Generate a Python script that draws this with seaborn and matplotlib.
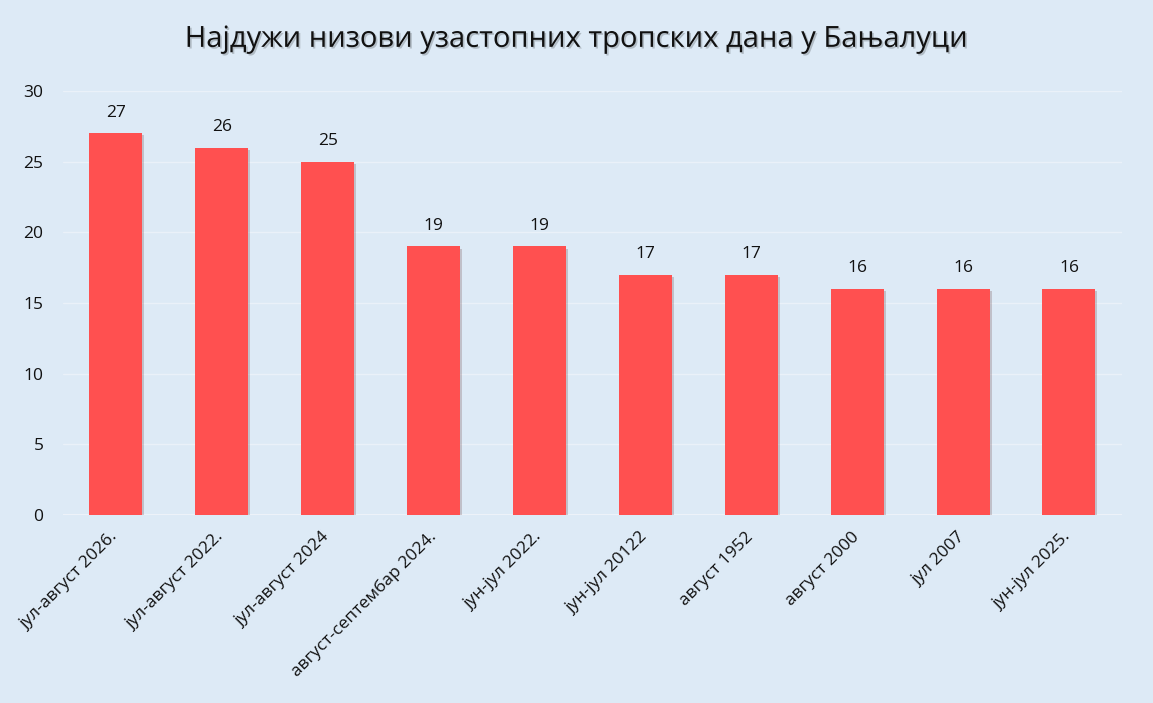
import pandas as pd
import matplotlib.pyplot as plt
import matplotlib.patheffects as pe
import seaborn as sns

# data
periods = ['јул-август 2026.', 'јул-август 2022.', 'јул-август 2024',
           'август-септембар 2024.', 'јун-јул 2022.', 'јун-јул 20122',
           'август 1952', 'август 2000', 'јул 2007', 'јун-јул 2025.']
days = [27, 26, 25, 19, 19, 17, 17, 16, 16, 16]
yticks = [0, 5, 10, 15, 20, 25, 30]

bg = '#DDEAF6'
sns.set_theme(style='whitegrid', rc={'axes.facecolor': bg, 'figure.facecolor': bg,
                                     'grid.color': '#EAF1F9', 'grid.linewidth': 1.0})
plt.rcParams['font.family'] = ['Open Sans', 'DejaVu Sans']

df = pd.DataFrame({'period': periods, 'days': days})

fig = plt.figure(figsize=(11.53, 7.03), dpi=100)
ax = fig.add_axes([0.0546, 0.2674, 0.9184, 0.6032])
sns.barplot(data=df, x='period', y='days', color='#FF5050', saturation=1,
            width=0.5, linewidth=0, ax=ax)

for bar in ax.patches:
    bar.set_path_effects([pe.SimplePatchShadow(offset=(1.5, -1.5), alpha=0.2), pe.Normal()])
    ax.annotate(f'{bar.get_height():.0f}', (bar.get_x() + bar.get_width() / 2, bar.get_height()),
                xytext=(0, 9), textcoords='offset points', ha='center', va='bottom',
                fontsize=12.5, color='#111111')

ax.set_ylim(0, 30)
ax.set_xlim(-0.5, len(periods) - 0.5)
ax.set_yticks(yticks)
ax.set_xlabel('')
ax.set_ylabel('')
ax.grid(axis='x', visible=False)
for s in ax.spines.values():
    s.set_visible(False)
ax.axhline(0, color='#F2F6FB', lw=1.2, zorder=0)
ax.tick_params(axis='y', length=0, pad=14, labelsize=12.5, labelcolor='#111111')
ax.tick_params(axis='x', length=0, pad=14, labelsize=12.5, labelcolor='#111111')
plt.setp(ax.get_xticklabels(), rotation=45, ha='right', va='center', rotation_mode='anchor')

fig.text(0.5, 0.944, 'Најдужи низови узастопних тропских дана у Бањалуци',
         ha='center', va='center', fontsize=21, color='#111111',
         path_effects=[pe.withSimplePatchShadow(offset=(1.2, -1.2), alpha=0.2)])

fig.savefig('out.png', dpi=100, facecolor=bg)
